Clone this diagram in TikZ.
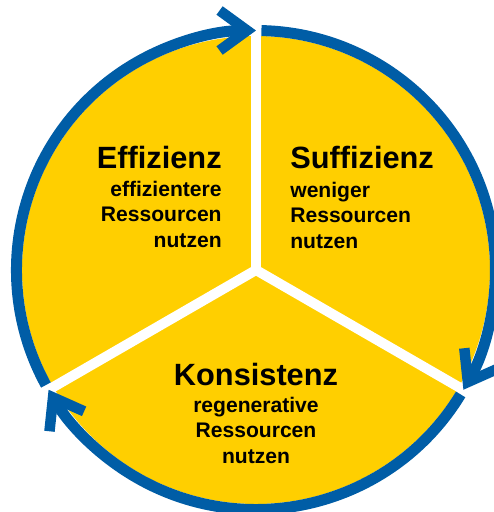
\documentclass[tikz,border=0pt]{standalone}
\usepackage{fontspec}
\setmainfont{Liberation Sans}
\usetikzlibrary{arrows.meta,positioning}
\definecolor{sunYellow}{RGB}{255,207,0}
\definecolor{ringBlue}{RGB}{0,93,166}

\begin{document}
\begin{tikzpicture}[
    title/.style={font=\bfseries\fontsize{17.5}{20}\selectfont, inner sep=0pt},
    body/.style={font=\bfseries\fontsize{12}{14.6}\selectfont, inner sep=0pt},
    ring/.style={draw=ringBlue, line width=0.22cm,
        -{Straight Barb[length=0.55cm, width=0.8cm, line width=0.21cm]}},
    divider/.style={draw=white, line width=0.2cm}
]
    % Parameters
    \def\rDisk{4.68}
    \def\rRing{4.79}
    \def\gap{1.3}

    % Frame of the picture
    \clip (-5.12,-4.84) rectangle (4.76,5.4);

    % Yellow disk
    \coordinate (M) at (0,0);
    \fill[sunYellow] (M) circle (\rDisk);

    % White dividers
    \foreach \a/\n in {90/top, -30/right, 210/left} {
        \coordinate (\n) at (\a:4.95);
        \draw[divider] (M) -- (\n);
    }

    % Blue ring, clockwise, one arrow per sector
    \draw[ring] ({210-\gap}:\rRing) arc[start angle={210-\gap}, end angle=90, radius=\rRing];
    \draw[ring] ({90-\gap}:\rRing) arc[start angle={90-\gap}, end angle=-30, radius=\rRing];
    \draw[ring] ({-30-\gap}:\rRing) arc[start angle={-30-\gap}, end angle=-150, radius=\rRing];

    % Effizienz
    \node[title, anchor=base east] (effT) at (-0.68,2.03) {Effizienz};
    \node[body, align=right, below=0.23cm of effT.south east, anchor=north east] (effB)
        {effizientere\\Ressourcen\\nutzen};

    % Suffizienz
    \node[title, anchor=base west] (sufT) at (0.68,2.03) {Suffizienz};
    \node[body, align=left, below=0.25cm of sufT.south west, anchor=north west] (sufB)
        {weniger\\Ressourcen\\nutzen};

    % Konsistenz
    \node[title, anchor=base] (konT) at (0,-2.3) {Konsistenz};
    \node[body, align=center, below=0.22cm of konT.south] (konB)
        {regenerative\\Ressourcen\\nutzen};
\end{tikzpicture}
\end{document}
